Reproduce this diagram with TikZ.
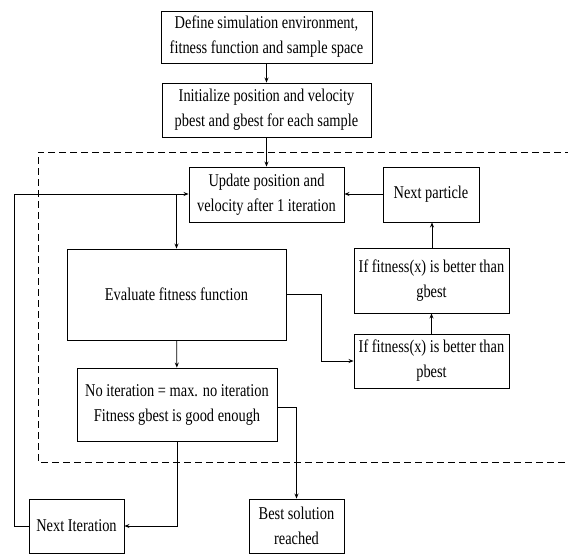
\documentclass[tikz,border=0pt]{standalone}
\usepackage{fontspec}
\setmainfont{Liberation Serif}[FakeStretch=0.8]
\usetikzlibrary{positioning,arrows.meta}

\begin{document}
\begin{tikzpicture}[
  x=1pt, y=-1pt,
  box/.style={
    draw, align=center, inner sep=2pt, line width=0.9pt,
    font=\fontsize{18}{25}\selectfont
  },
  flow/.style={line width=0.8pt, -{Stealth[length=5pt,width=4pt]}},
  frame/.style={dashed, line width=0.8pt, dash pattern=on 7pt off 4pt}
]
\useasboundingbox (0,0) rectangle (568,554);

% dashed region
\draw[frame] (572,152) -- (38,152) -- (38,462) -- (572,462);

\node[box, minimum width=211pt, minimum height=52pt] (define) at (266.5,37)
  {Define simulation environment,\\fitness function and sample space};
\node[box, minimum width=209pt, minimum height=54pt] (init) at (266.5,110)
  {Initialize position and velocity\\pbest and gbest for each sample};
\node[box, minimum width=155pt, minimum height=55pt] (update) at (266.5,194.5)
  {Update position and\\velocity after 1 iteration};
\node[box, minimum width=96pt, minimum height=55pt] (nextp) at (431,194.5)
  {Next particle};
\node[box, minimum width=219pt, minimum height=91pt] (eval) at (176.5,294.5)
  {Evaluate fitness function};
\node[box, minimum width=155pt, minimum height=65pt] (gbest) at (431.5,280.5)
  {If fitness(x) is better than\\gbest};
\node[box, minimum width=155pt, minimum height=54pt] (pbest) at (431.5,361)
  {If fitness(x) is better than\\pbest};
\node[box, minimum width=200pt, minimum height=73pt] (noiter) at (177,404.5)
  {No iteration = max. no iteration\\Fitness gbest is good enough};
\node[box, minimum width=95pt, minimum height=54pt] (nextit) at (76.5,526)
  {Next Iteration};
\node[box, minimum width=95pt, minimum height=54pt] (best) at (296.5,526)
  {Best solution\\reached};

\coordinate (split) at (176.5,194);
\coordinate (loop) at (14,194);

\draw[flow] (define) -- (init);
\draw[flow] (init) -- (update);
\draw[flow] (nextp.west |- 0,194) -- (update.east |- 0,194);
\draw[flow] (pbest) -- (gbest);
\draw[flow] (gbest.north -| 432,0) -- (nextp.south -| 432,0);
\draw[flow] (eval.east |- 0,294) -- (321,294) |- (pbest.west);
\draw[flow] (split) -- (eval.north);
\draw[flow] (eval) -- (noiter);
\draw[flow] (noiter.east |- 0,407) -| (best.north);
\draw[flow] (noiter.south) |- (nextit.east);
\draw[flow] (nextit.west) -| (loop) -- (update.west |- loop);
\end{tikzpicture}
\end{document}
